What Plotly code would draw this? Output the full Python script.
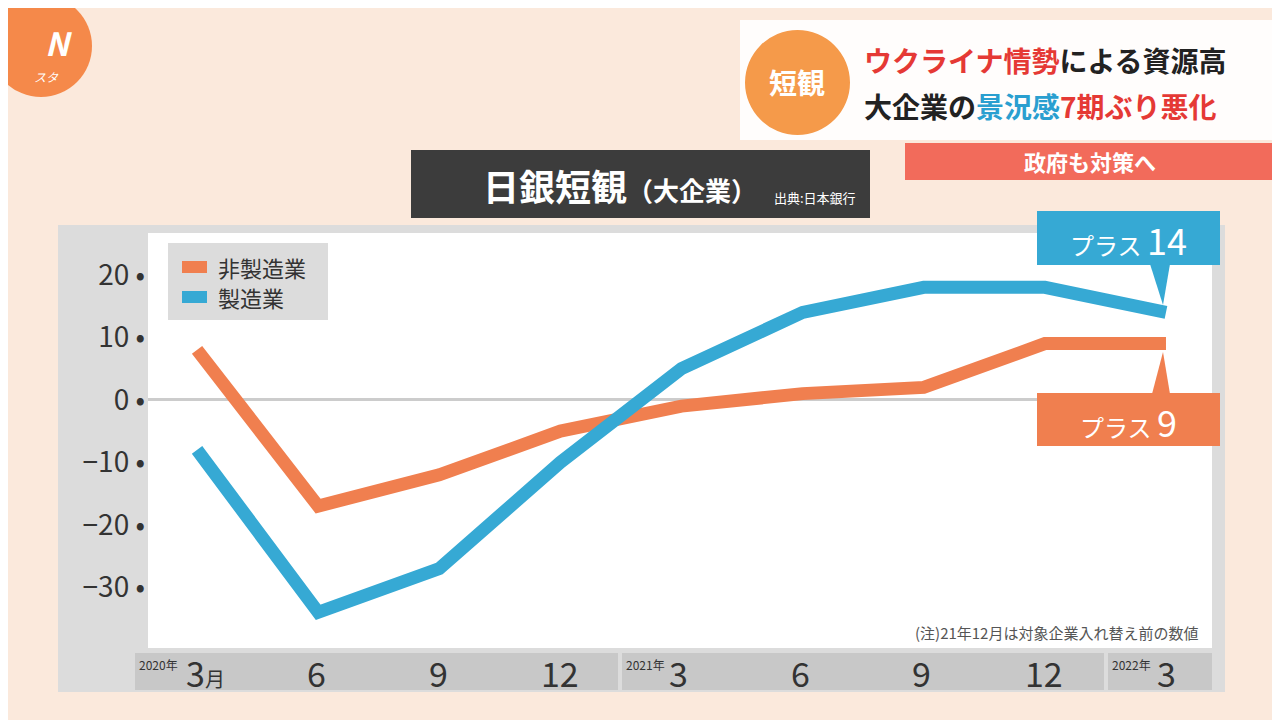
import plotly.graph_objects as go

periods = ["2020/3", "2020/6", "2020/9", "2020/12", "2021/3", "2021/6", "2021/9", "2021/12", "2022/3"]
manufacturing = [-8, -34, -27, -10, 5, 14, 18, 18, 14]
non_manufacturing = [8, -17, -12, -5, -1, 1, 2, 9, 9]
y_ticks = [20, 10, 0, -10, -20, -30]
y_tick_text = ["20", "10", "0", "−10", "−20", "−30"]
x_labels = ["3", "6", "9", "12", "3", "6", "9", "12", "3"]

ORANGE = "#f07f4f"
BLUE = "#36a9d4"
FONT = "Noto Sans CJK JP"

x = list(range(len(periods)))

# pixel -> paper helpers (plot area 148..1212 x 233..648 in screen pixels;
# the page adds an 8px body margin, so the figure margins are 8px smaller)
def px(v):
    return (v - 148) / 1064

def py(v):
    return (648 - v) / 415

fig = go.Figure()
fig.add_trace(go.Scatter(x=x, y=non_manufacturing, mode="lines", name="非製造業",
                         line=dict(color=ORANGE, width=13)))
fig.add_trace(go.Scatter(x=x, y=manufacturing, mode="lines", name="製造業",
                         line=dict(color=BLUE, width=13)))

shapes = []
ann = []

def rect(x0, y0, x1, y1, color, layer="below"):
    shapes.append(dict(type="rect", xref="paper", yref="paper", x0=px(x0), x1=px(x1),
                       y0=py(y1), y1=py(y0), fillcolor=color, layer=layer, line=dict(width=0)))

def text(xp, yp, s, size, color, anchor="center", weight="normal"):
    ann.append(dict(xref="paper", yref="paper", x=px(xp), y=py(yp), text=s, showarrow=False,
                    xanchor=anchor, yanchor="middle",
                    font=dict(family=FONT, size=size, color=color, weight=weight)))

# grey frame behind chart, white plot area
rect(58, 225, 1225, 692, "#dcdcdc")
rect(148, 233, 1212, 648, "white")
# x label bars
rect(135, 653, 618, 690, "#c8c8c8")
rect(622, 653, 1104, 690, "#c8c8c8")
rect(1108, 653, 1212, 690, "#c8c8c8")
xpos = [197, 316, 438, 560, 678, 800, 922, 1044, 1166]
for i, (xp, lab) in enumerate(zip(xpos, x_labels)):
    s = lab + ("<span style='font-size:20px'>月</span>" if i == 0 else "")
    text(xp + (8 if i == 0 else 0), 672, s, 34, "#333333")
text(158, 664, "2020年", 12, "#333333")
text(645, 664, "2021年", 12, "#333333")
text(1131, 664, "2022年", 12, "#333333")

# legend box
rect(168, 243, 328, 320, "#dcdcdc", layer="above")
shapes.append(dict(type="line", xref="paper", yref="paper", x0=px(182), x1=px(207), y0=py(267), y1=py(267),
                   line=dict(color=ORANGE, width=12), layer="above"))
shapes.append(dict(type="line", xref="paper", yref="paper", x0=px(182), x1=px(207), y0=py(297), y1=py(297),
                   line=dict(color=BLUE, width=12), layer="above"))
text(216, 267, "非製造業", 22, "#333333", anchor="left")
text(216, 297, "製造業", 22, "#333333", anchor="left")

# value callouts
rect(1037, 211, 1220, 265, BLUE, layer="above")
shapes.append(dict(type="path", xref="paper", yref="paper", layer="above", fillcolor=BLUE, line=dict(width=0),
                   path=f"M {px(1150)},{py(264)} L {px(1170)},{py(264)} L {px(1163)},{py(305)} Z"))
text(1128, 239, "プラス <span style='font-size:36px'>14</span>", 24, "white")
rect(1037, 393, 1220, 446, ORANGE, layer="above")
shapes.append(dict(type="path", xref="paper", yref="paper", layer="above", fillcolor=ORANGE, line=dict(width=0),
                   path=f"M {px(1152)},{py(394)} L {px(1170)},{py(394)} L {px(1163)},{py(352)} Z"))
text(1128, 421, "プラス <span style='font-size:36px'>9</span>", 24, "white")

# note
text(1200, 632, "(注)21年12月は対象企業入れ替え前の数値", 15, "#555555", anchor="right")

# title box
rect(411, 150, 870, 218, "#3c3c3c")
text(620, 185, "日銀短観<span style='font-size:26px'>（大企業）</span>", 36, "white", weight="bold")
text(815, 197, "出典:日本銀行", 13, "white")

# header
rect(740, 20, 1278, 140, "rgba(255,255,255,0.9)")
shapes.append(dict(type="circle", xref="paper", yref="paper", x0=px(745), x1=px(850), y0=py(135), y1=py(30),
                   fillcolor="#f59a4a", line=dict(width=0)))
text(797, 82, "短観", 28, "white", weight="bold")
text(862, 60, "<span style='color:#e53935'>ウクライナ情勢</span>による資源高", 28, "#222222", anchor="left", weight="bold")
text(862, 106, "大企業の<span style='color:#2a9fd0'>景況感</span><span style='color:#e53935'>7期ぶり悪化</span>", 28, "#222222", anchor="left", weight="bold")
rect(905, 143, 1278, 180, "#f26b5b")
text(1090, 161, "政府も対策へ", 22, "white", weight="bold")

# logo
shapes.append(dict(type="circle", xref="paper", yref="paper", x0=px(-10), x1=px(92), y0=py(97), y1=py(-5),
                   fillcolor="#f5894a", line=dict(width=0)))
text(58, 42, "<b><i>N</i></b>", 32, "white")
text(46, 76, "<i>スタ</i>", 12, "white")

fig.update_layout(
    width=1280, height=720,
    margin=dict(l=140, r=76, t=225, b=80),
    paper_bgcolor="#fbe9dc",
    plot_bgcolor="white",
    showlegend=False,
    shapes=shapes,
    annotations=ann,
    font=dict(family=FONT),
    xaxis=dict(range=[-0.405, 8.38], showticklabels=False, showgrid=False, zeroline=False, fixedrange=True),
    yaxis=dict(range=[-39.7, 26.7], tickvals=y_ticks, ticktext=[t + " •" for t in y_tick_text],
               tickfont=dict(size=28, color="#333333"), showgrid=False,
               zeroline=True, zerolinecolor="#cccccc", zerolinewidth=3, ticklabelstandoff=2),
)

fig.write_html("out.html")
